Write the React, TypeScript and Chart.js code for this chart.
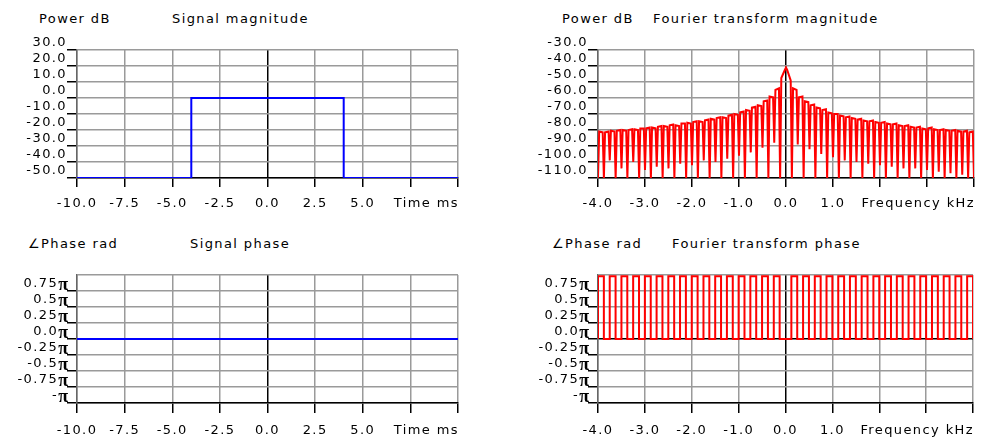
import React, { useEffect, useRef } from 'react';
import { Chart, registerables } from 'chart.js';

Chart.register(...registerables);

// ---------- axis ticks & labels ----------
const timeTickLabels = ['-10.0', '-7.5', '-5.0', '-2.5', '0.0', '2.5', '5.0', '', ''];
const freqTickLabels = ['-4.0', '-3.0', '-2.0', '-1.0', '0.0', '1.0', '', '', ''];
const signalPowerTickLabels = ['-50.0', '-40.0', '-30.0', '-20.0', '-10.0', '0.0', '10.0', '20.0', '30.0'];
const spectrumPowerTickLabels = ['-110.0', '-100.0', '-90.0', '-80.0', '-70.0', '-60.0', '-50.0', '-40.0', '-30.0'];
const phaseTickValues = [-1, -0.75, -0.5, -0.25, 0, 0.25, 0.5, 0.75, 1];
const phaseTickLabels = ['-', '-0.75', '-0.5', '-0.25', '0.0', '0.25', '0.5', '0.75', ''];

// ---------- signal (time domain) ----------
const signalTimes = [-10, -4, -4, 4, 4, 10];
const signalPowerDb = [-50, -50, 0, 0, -50, -50];
const signalPhaseTimes = [-10, 10];
const signalPhasePi = [0, 0];

// ---------- spectrum (frequency domain) ----------
const spectrumStartKHz = -4;
const lobeWidthKHz = 0.125;
// level at each lobe boundary (null), from -4 kHz to +4 kHz
const spectrumNullsDb = [
  -110, -110, -99, -110, -104, -110, -100, -110, -105, -110, -103, -110, -104, -110, -101, -110,
  -102, -110, -99, -110, -100, -110, -98, -110, -96, -110, -94, -110, -91, -110, -88, -110,
  -41,
  -110, -89, -110, -92, -110, -95, -110, -97, -110, -99, -110, -100, -110, -101, -110, -102,
  -110, -103, -110, -104, -110, -104, -110, -105, -110, -106, -110, -107, -110, -108, -110, -110,
];
// level on the rising side of each lobe
const spectrumLobeRiseDb = [
  -81, -81.5, -80.5, -80.5, -80, -80, -79.5, -79, -79, -78.5, -78, -77.5, -77, -77, -76, -75.5,
  -75, -74.5, -74, -73, -72.5, -72, -71, -70, -69, -67.5, -66, -64.5, -62, -59, -55, -47.5,
  -42.5, -54, -59.5, -62, -64.5, -66, -67.5, -69, -70, -71, -72, -72.5, -73.5, -74, -74.5, -75,
  -75.5, -76, -76.5, -77, -77.5, -78, -78.5, -79, -79, -79.5, -80, -80, -80.5, -80.5, -81, -81.5,
];
// level on the falling side of each lobe
const spectrumLobeFallDb = [
  -81.5, -81, -81, -80, -80.5, -79.5, -80, -79, -78.5, -79, -77.5, -78, -76.5, -77.5, -76, -76,
  -74.5, -75, -73.5, -73.5, -72, -72.5, -70.5, -70.5, -68.5, -68, -65.5, -65, -61.5, -59.5, -54, -42.5,
  -49, -55, -59, -62.5, -64, -66.5, -67, -69.5, -70, -71.5, -71.5, -73, -73, -74.5, -74, -75.5,
  -75, -76.5, -76, -77.5, -77, -78.5, -78, -79.5, -78.5, -80, -79.5, -80.5, -80, -81, -80.5, -81,
];
// phase of each lobe, in units of pi
const spectrumLobePhasePi = [
  0.98, 0, 0.98, 0, 0.98, 0, 0.98, 0, 0.98, 0, 0.98, 0, 0.98, 0, 0.98, 0,
  0.98, 0, 0.98, 0, 0.98, 0, 0.98, 0, 0.98, 0, 0.98, 0, 0.98, 0, 0.98, 0,
  0, 0.98, 0, 0.98, 0, 0.98, 0, 0.98, 0, 0.98, 0, 0.98, 0, 0.98, 0, 0.98,
  0, 0.98, 0, 0.98, 0, 0.98, 0, 0.98, 0, 0.98, 0, 0.98, 0, 0.98, 0, 0.98,
];

const FONT = '"DejaVu Sans"';
const LS = '1.4px';
const GRID = '#9a9a9a';

const lobeStart = (i: number) => spectrumStartKHz + i * lobeWidthKHz;

const magnitudePoints = () => {
  const pts: { x: number; y: number }[] = [];
  spectrumLobeRiseDb.forEach((rise, i) => {
    const f = lobeStart(i);
    pts.push({ x: f, y: spectrumNullsDb[i] });
    pts.push({ x: f + lobeWidthKHz * 0.2, y: rise });
    pts.push({ x: f + lobeWidthKHz * 0.8, y: spectrumLobeFallDb[i] });
  });
  pts.push({ x: lobeStart(spectrumLobeRiseDb.length), y: spectrumNullsDb[spectrumNullsDb.length - 1] });
  return pts;
};

const phasePoints = () => {
  const pts: { x: number; y: number }[] = [{ x: lobeStart(0), y: 0 }];
  spectrumLobePhasePi.forEach((p, i) => pts.push({ x: lobeStart(i), y: p }));
  pts.push({ x: lobeStart(spectrumLobePhasePi.length), y: 0 });
  return pts;
};

const zip = (xs: number[], ys: number[]) => xs.map((x, i) => ({ x, y: ys[i] }));

type Panel = {
  left: number; top: number; width: number; height: number;
  padRight: number; yWidth: number; xHeight: number;
  xMin: number; xMax: number; xStep: number; xLabels: string[]; xTitle: string;
  xTickLen: number; xPad: number;
  yMin: number; yMax: number; yStep: number; yLabels: string[] | null;
  phase: boolean;
  data: { x: number; y: number }[]; color: string; stepped: boolean;
};

const panels: Panel[] = [
  {
    left: 0, top: 25, width: 470, height: 195, padRight: 12, yWidth: 77, xHeight: 42,
    xMin: -10, xMax: 10, xStep: 2.5, xLabels: timeTickLabels, xTitle: 'Time ms', xTickLen: 9, xPad: 9,
    yMin: -50, yMax: 30, yStep: 10, yLabels: signalPowerTickLabels, phase: false,
    data: zip(signalTimes, signalPowerDb), color: '#0000ff', stepped: false,
  },
  {
    left: 510, top: 25, width: 473, height: 195, padRight: 3, yWidth: 88, xHeight: 42,
    xMin: -4, xMax: 4, xStep: 1, xLabels: freqTickLabels, xTitle: 'Frequency kHz', xTickLen: 9, xPad: 9,
    yMin: -110, yMax: -30, yStep: 10, yLabels: spectrumPowerTickLabels, phase: false,
    data: magnitudePoints(), color: '#ff0000', stepped: false,
  },
  {
    left: 0, top: 250, width: 470, height: 189, padRight: 12, yWidth: 77, xHeight: 36,
    xMin: -10, xMax: 10, xStep: 2.5, xLabels: timeTickLabels, xTitle: 'Time ms', xTickLen: 10, xPad: 10,
    yMin: -1, yMax: 1, yStep: 0.25, yLabels: null, phase: true,
    data: zip(signalPhaseTimes, signalPhasePi), color: '#0000ff', stepped: false,
  },
  {
    left: 510, top: 250, width: 473, height: 189, padRight: 3, yWidth: 88, xHeight: 36,
    xMin: -4, xMax: 4, xStep: 1, xLabels: freqTickLabels, xTitle: 'Frequency kHz', xTickLen: 10, xPad: 10,
    yMin: -1, yMax: 1, yStep: 0.25, yLabels: null, phase: true,
    data: phasePoints(), color: '#ff0000', stepped: true,
  },
];

const titles = [
  { text: 'Power dB', left: 39, top: 11 },
  { text: 'Signal magnitude', left: 172, top: 11 },
  { text: 'Power dB', left: 562, top: 11 },
  { text: 'Fourier transform magnitude', left: 653, top: 11 },
  { text: '\u2220Phase rad', left: 28, top: 236 },
  { text: 'Signal phase', left: 190, top: 236 },
  { text: '\u2220Phase rad', left: 552, top: 236 },
  { text: 'Fourier transform phase', left: 672, top: 236 },
];

function buildConfig(p: Panel): any {
  const labelCenter = p.xTickLen + p.xPad + 7.8;
  const plugin = {
    id: 'extraText',
    beforeDraw(chart: any) {
      chart.ctx.letterSpacing = LS;
    },
    afterDraw(chart: any) {
      const ctx = chart.ctx;
      const area = chart.chartArea;
      ctx.save();
      ctx.letterSpacing = LS;
      ctx.fillStyle = '#000';
      ctx.textBaseline = 'middle';
      ctx.textAlign = 'right';
      ctx.font = `13px ${FONT}`;
      ctx.fillText(p.xTitle, area.right + 1, area.bottom + labelCenter);
      if (p.phase) {
        const ys = chart.scales.y;
        phaseTickValues.forEach((v, i) => {
          const txt = phaseTickLabels[i];
          if (!txt) return;
          const y = ys.getPixelForValue(v) - 7;
          const right = area.left - 9;
          ctx.letterSpacing = '0px';
          ctx.font = 'bold 18px "Liberation Serif"';
          ctx.fillText('\u03c0', right, y + 1);
          const pw = ctx.measureText('\u03c0').width;
          ctx.letterSpacing = LS;
          ctx.font = `13px ${FONT}`;
          ctx.fillText(txt, right - pw, y);
        });
      }
      ctx.restore();
    },
  };

  return {
    type: 'line',
    data: {
      datasets: [
        {
          data: p.data,
          borderColor: p.color,
          borderWidth: 2,
          pointRadius: 0,
          tension: 0,
          fill: false,
          stepped: p.stepped ? 'before' : false,
        },
      ],
    },
    options: {
      responsive: false,
      animation: false,
      events: [],
      layout: { padding: { left: 0, top: 25, right: p.padRight, bottom: 0 } },
      plugins: { legend: { display: false }, tooltip: { enabled: false }, title: { display: false } },
      scales: {
        x: {
          type: 'linear',
          min: p.xMin,
          max: p.xMax,
          afterFit: (s: any) => { s.height = p.xHeight; },
          border: { display: true, color: '#000', width: 1.5 },
          grid: {
            color: (c: any) => (c.tick && c.tick.value === 0 ? '#000' : GRID),
            lineWidth: 1.5,
            tickLength: p.xTickLen,
            tickColor: '#000',
            tickWidth: 1.5,
          },
          ticks: {
            stepSize: p.xStep,
            autoSkip: false,
            maxRotation: 0,
            padding: p.xPad,
            color: '#000',
            font: { family: 'DejaVu Sans', size: 13 },
            callback: (_v: any, i: number) => p.xLabels[i],
          },
        },
        y: {
          type: 'linear',
          min: p.yMin,
          max: p.yMax,
          afterFit: (s: any) => { s.width = p.yWidth; },
          border: { display: true, color: '#666', width: 1.5 },
          grid: {
            color: (c: any) => (p.phase && c.tick && c.tick.value === 0 ? '#000' : GRID),
            lineWidth: 1.5,
            tickLength: 10,
            tickColor: (c: any) => (p.phase && c.tick && c.tick.value === 1 ? 'rgba(0,0,0,0)' : '#000'),
            tickWidth: 1.5,
          },
          ticks: {
            stepSize: p.yStep,
            autoSkip: false,
            padding: 0,
            labelOffset: -7,
            color: '#000',
            font: { family: 'DejaVu Sans', size: 13 },
            callback: (_v: any, i: number) => (p.yLabels ? p.yLabels[i] : ''),
          },
        },
      },
    },
    plugins: [plugin],
  };
}

export default function App() {
  const refs = useRef<(HTMLCanvasElement | null)[]>([]);

  useEffect(() => {
    const charts = panels.map((p, i) => new Chart(refs.current[i] as HTMLCanvasElement, buildConfig(p)));
    return () => charts.forEach((c) => c.destroy());
  }, []);

  return (
    <div style={{ position: 'absolute', left: 0, top: 0, width: 983, height: 439, background: '#fff', overflow: 'hidden' }}>
      {titles.map((t, i) => (
        <div
          key={i}
          style={{
            position: 'absolute', left: t.left, top: t.top, font: `13px ${FONT}`, lineHeight: '15px',
            letterSpacing: LS, color: '#000', whiteSpace: 'nowrap',
          }}
        >
          {t.text}
        </div>
      ))}
      {panels.map((p, i) => (
        <canvas
          key={i}
          ref={(el) => { refs.current[i] = el; }}
          width={p.width}
          height={p.height}
          style={{ position: 'absolute', left: p.left, top: p.top, width: p.width, height: p.height }}
        />
      ))}
    </div>
  );
}
